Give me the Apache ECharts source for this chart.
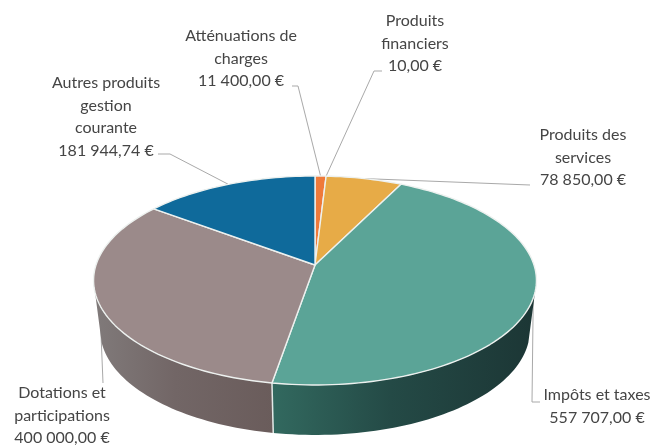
<!DOCTYPE html>
<html><head><meta charset="utf-8">
<style>html,body{margin:0;padding:0;background:#fff}#c{width:660px;height:446px}</style>
<script src="https://cdn.jsdelivr.net/npm/echarts@6/dist/echarts.min.js"></script>
</head><body><div id="c"></div>
<script>
// Data, clockwise from the top of the pie
const categories = ['Atténuations de\ncharges','Produits\nfinanciers','Produits des\nservices','Impôts et taxes','Dotations et\nparticipations','Autres produits\ngestion\ncourante'];
const values = [11400, 10, 78850, 557707, 400000, 181944.74];

// Styles
const topColors = ['#ef7a3a','#ef7a3a','#e7ab47','#5ba497','#9b8a8a','#0f6a9b'];
const sideStops = [null,null,null,
  [[0,'#32695f'],[0.45,'#244a46'],[1,'#1c3635']],
  [[0,'#807a7a'],[0.45,'#726666'],[1,'#6a5c5b']],
  null];
// Layout of the labels: [text centre x, first line centre y], elbow points of each leader
const labelPos = [[241,36],[415,21],[583,135],[597,395],[62,393],[106,83]];
const leaderElbows = [[[292,86],[298,86]],[[382,71],[374,71]],[[530,185]],[[540,402],[532,402]],[[103,383]],[[158,154],[170,154]]];

const cx=315, cy=265, a=219, k=102.2, e=0.148, depth=50, shrink=0.97;
const sideFrom=105, sideTo=255;
const total = values.reduce((s,v)=>s+v,0);
function bounds(i){ let s=0; for(let j=0;j<i;j++) s+=values[j]; return [s/total*360,(s+values[i])/total*360]; }
function proj(t){ const r=t*Math.PI/180, X=Math.sin(r), Y=Math.cos(r), d=1+e*Y; return [cx+a*X/d, cy-k*Y/d]; }
function projB(t){ const p=proj(t); return [cx+(p[0]-cx)*shrink, p[1]+depth]; }
function arc(f,t0,t1){ const n=Math.max(2,Math.ceil(Math.abs(t1-t0)/1.5)), o=[]; for(let i=0;i<=n;i++) o.push(f(t0+(t1-t0)*i/n)); return o; }
const fmt = v => { const [p,q]=v.toFixed(2).split('.'); return p.replace(/\B(?=(\d{3})+$)/g,' ')+','+q+' €'; };

function renderPie(params, api){
  const i=params.dataIndex, [t0,t1]=bounds(i), kids=[];
  const s0=Math.max(t0,sideFrom), s1=Math.min(t1,sideTo);
  if(s1>s0){
    const pts=arc(proj,s0,s1).concat(arc(projB,s0,s1).reverse());
    kids.push({type:'polygon',shape:{points:pts},style:{fill: sideStops[i]?new echarts.graphic.LinearGradient(0,0,1,0,sideStops[i].map(c=>({offset:c[0],color:c[1]}))):topColors[i]}});
    if(t0>sideFrom&&t0<sideTo){ kids.push({type:'line',shape:{x1:proj(t0)[0],y1:proj(t0)[1],x2:projB(t0)[0],y2:projB(t0)[1]},style:{stroke:'#e3e9e7',lineWidth:1.5}}); }
  }
  kids.push({type:'polygon',shape:{points:[[cx,cy]].concat(arc(proj,t0,t1))},style:{fill:topColors[i],stroke:'#edf1ef',lineWidth:values[i]/total<0.001?0:1.4,lineJoin:'round'}});
  return {type:'group',children:kids};
}
function renderLeader(params, api){
  const i=params.dataIndex, [t0,t1]=bounds(i), end=proj((t0+t1)/2);
  return {type:'polyline',shape:{points:leaderElbows[i].concat([end])},style:{stroke:'#a9a9a9',lineWidth:1,fill:null}};
}
function renderLabel(params, api){
  const i=params.dataIndex, lines=categories[i].split('\n').concat(fmt(values[i]));
  return {type:'group',children:lines.map((s,j)=>({type:'text',style:{text:s,x:labelPos[i][0],y:labelPos[i][1]+j*22.5,align:'center',verticalAlign:'middle',font:'16px Lato',fill:'#454545'}}))};
}
const rows = values.map((v,i)=>[v,categories[i]]);
const chart=echarts.init(document.getElementById('c'),null,{renderer:'canvas'});
chart.setOption({
  animation:false, backgroundColor:'#fff',
  series:[
    {type:'custom',coordinateSystem:'none',z:1,data:rows,renderItem:renderLeader,silent:true},
    {type:'custom',coordinateSystem:'none',z:2,data:rows,renderItem:renderPie,silent:true},
    {type:'custom',coordinateSystem:'none',z:3,data:rows,renderItem:renderLabel,silent:true}
  ]
});
</script></body></html>
